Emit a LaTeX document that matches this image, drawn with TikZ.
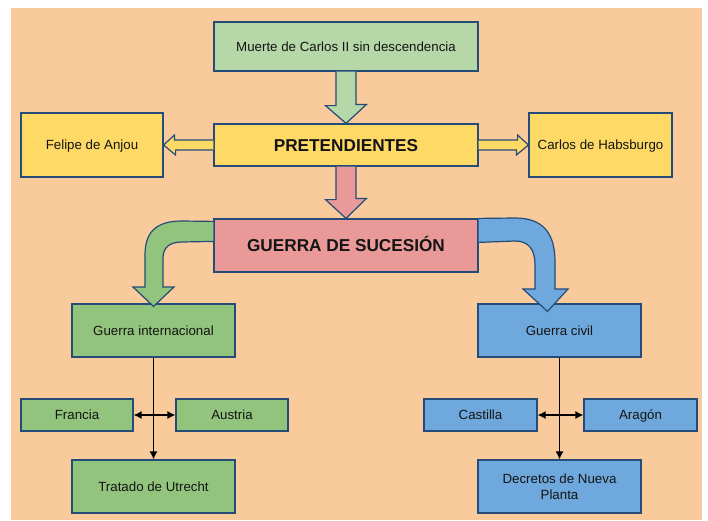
\documentclass[tikz,border=0pt]{standalone}
\usepackage{fontspec}
\setmainfont{Liberation Sans}
\usepackage{tikz}
\usetikzlibrary{arrows.meta,calc}
\definecolor{wspeach}{RGB}{249,203,156}
\definecolor{wslightgreen}{RGB}{182,215,168}
\definecolor{wsyellow}{RGB}{255,217,102}
\definecolor{wsred}{RGB}{234,153,153}
\definecolor{wsgreen}{RGB}{147,196,125}
\definecolor{wsblue}{RGB}{111,168,220}
\definecolor{wsborder}{RGB}{35,76,120}
\definecolor{wstext}{RGB}{20,20,20}
\tikzstyle{box} = [rectangle, draw=wsborder, line width=1.2pt, text=wstext, align=center, inner sep=2pt, text height=12.5pt, text depth=3pt, font=\fontsize{13.3}{16}\selectfont]
\tikzstyle{bigbox} = [box, text height=15.3pt, text depth=3pt, font=\fontsize{17.2}{20}\selectfont\bfseries]
\tikzstyle{blockarrow} = [draw=wsborder, line width=1.2pt, line join=miter]
\tikzstyle{link} = [line width=1.3pt, -{Latex[length=8pt,width=8pt]}]
\tikzstyle{twolink} = [line width=1.3pt, {Latex[length=8pt,width=8pt]}-{Latex[length=8pt,width=8pt]}]

\begin{document}
\begin{tikzpicture}[x=1pt, y=-1pt]
\useasboundingbox (0,0) rectangle (708,520);
\fill[wspeach] (11,8) rectangle (702,520);

% Cause and claimants
\node[box, fill=wslightgreen, minimum width=264pt, minimum height=49pt] (muerte) at (346,46.5) {Muerte de Carlos II sin descendencia};
\node[bigbox, fill=wsyellow, minimum width=264pt, minimum height=42pt] (pret) at (346,145) {PRETENDIENTES};
\node[box, fill=wsyellow, minimum width=142pt, minimum height=64pt] (felipe) at (92,145) {Felipe de Anjou};
\node[box, fill=wsyellow, minimum width=143pt, minimum height=64pt] (carlos) at (600.5,145) {Carlos de Habsburgo};

% War
\node[bigbox, fill=wsred, minimum width=264pt, minimum height=53pt] (guerra) at (346,245.5) {GUERRA DE SUCESIÓN};

% International war
\node[box, fill=wsgreen, minimum width=163pt, minimum height=53pt] (gint) at (153.5,330.5) {Guerra internacional};
\node[box, fill=wsgreen, minimum width=112pt, minimum height=32pt] (francia) at (77,415) {Francia};
\node[box, fill=wsgreen, minimum width=112pt, minimum height=32pt] (austria) at (232,415) {Austria};
\node[box, fill=wsgreen, minimum width=163pt, minimum height=53pt] (tratado) at (153.5,486.5) {Tratado de Utrecht};

% Civil war
\node[box, fill=wsblue, minimum width=163pt, minimum height=53pt] (gciv) at (559.5,330.5) {Guerra civil};
\node[box, fill=wsblue, minimum width=113pt, minimum height=32pt] (castilla) at (480.5,415) {Castilla};
\node[box, fill=wsblue, minimum width=113pt, minimum height=32pt] (aragon) at (640.5,415) {Aragón};
\node[box, fill=wsblue, minimum width=163pt, minimum height=53pt, text height={}, text depth={}] (decretos) at (559.5,486.5) {Decretos de Nueva\\Planta};

% Block arrows
\draw[blockarrow, fill=wslightgreen] ([xshift=-10pt]muerte.south) -- ++(0,34) -- ++(-10.5,0) -- (pret.north) -- ++(20.5,-19) -- ++(-10.5,0) -- ([xshift=10pt]muerte.south);
\draw[blockarrow, fill=wsred] ([xshift=-10pt]pret.south) -- ++(0,33) -- ++(-10.5,0) -- (guerra.north) -- ++(20.5,-20) -- ++(-10.5,0) -- ([xshift=10pt]pret.south);
\draw[blockarrow, fill=wsyellow] ($(pret.west)+(0,-5)$) -- ++(-39,0) -- ++(0,-5) -- (felipe.east) -- ++(12,10) -- ++(0,-5) -- ($(pret.west)+(0,5)$);
\draw[blockarrow, fill=wsyellow] ($(pret.east)+(0,-5)$) -- ++(39,0) -- ++(0,-5) -- (carlos.west) -- ++(-12,10) -- ++(0,-5) -- ($(pret.east)+(0,5)$);

% Curved arrows
\coordinate (gtip) at ($(gint.north)+(0,3)$);
\coordinate (ctip) at ($(gciv.north)+(-12,8)$);
\draw[blockarrow, fill=wsgreen] ($(guerra.north west)+(0,3)$) -- (182,221)
  .. controls (155,221) and (145,233) .. (145,255) -- (145,287) -- (133,287) -- (gtip)
  -- (174,287) -- (163,287) -- (163,258) .. controls (163,248) and (169,242) .. (182,242)
  -- ($(guerra.north west)+(0,23)$);
\draw[blockarrow, fill=wsblue] (guerra.north east) -- (515,218)
  .. controls (543,218) and (555,233) .. (555,262) -- (555,289) -- (568,289) -- (ctip)
  -- (523,289) -- (535,289) -- (535,265) .. controls (535,250) and (529,241) .. (515,241)
  -- ($(guerra.north east)+(0,24)$);

% Connectors
\draw[link] (gint.south) -- (tratado.north);
\draw[twolink] (francia.east) -- (austria.west);
\draw[link] (gciv.south) -- (decretos.north);
\draw[twolink] (castilla.east) -- (aragon.west);
\end{tikzpicture}
\end{document}
